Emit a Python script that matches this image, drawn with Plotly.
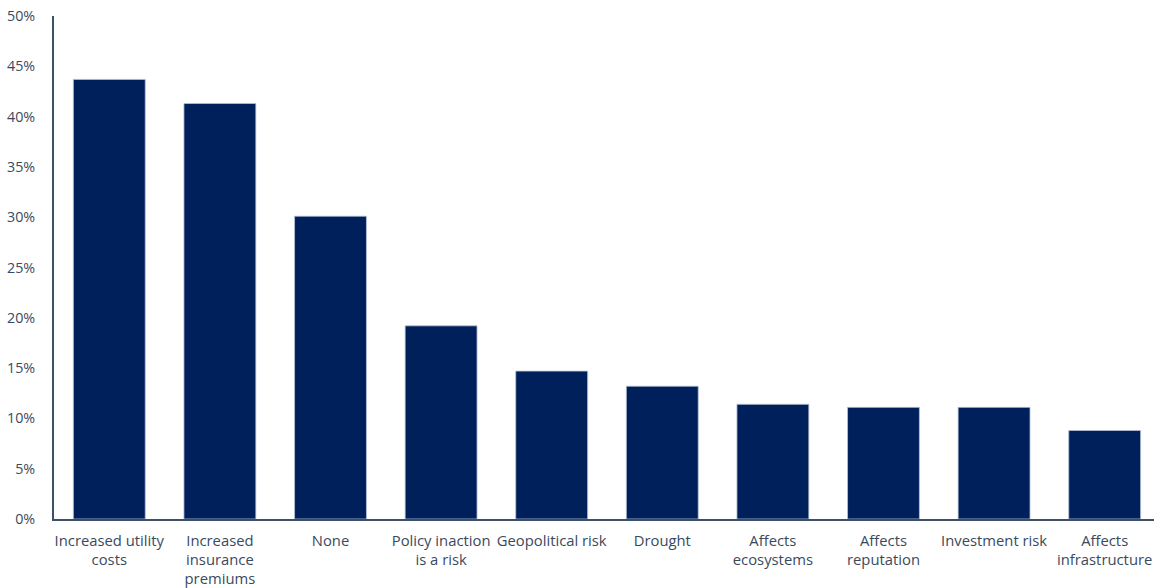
import plotly.graph_objects as go

categories = [
    "Increased utility<br>costs",
    "Increased<br>insurance<br>premiums",
    "None",
    "Policy inaction<br>is a risk",
    "Geopolitical risk",
    "Drought",
    "Affects<br>ecosystems",
    "Affects<br>reputation",
    "Investment risk",
    "Affects<br>infrastructure",
]
shares = [43.7, 41.3, 30.1, 19.2, 14.7, 13.2, 11.4, 11.1, 11.1, 8.8]
y_ticks = [0, 5, 10, 15, 20, 25, 30, 35, 40, 45, 50]
y_tick_labels = [f"{v}%" for v in y_ticks]

NAVY = "#00205B"
SLATE = "#3E5066"
TEXT = "#3A4A5E"

fig = go.Figure(
    go.Bar(
        x=list(range(len(categories))),
        y=shares,
        marker=dict(color=NAVY, line=dict(color="#B8C2D4", width=0.8)),
        hoverinfo="skip",
    )
)

fig.update_layout(
    width=1154,
    height=588,
    margin=dict(l=54, r=0, t=16, b=69),
    paper_bgcolor="white",
    plot_bgcolor="white",
    bargap=0.35,
    showlegend=False,
    font=dict(family="Open Sans", size=14, color=TEXT),
)

fig.update_xaxes(
    range=[-0.5, 9.446],
    tickmode="array",
    tickvals=list(range(len(categories))),
    ticktext=categories,
    showline=True,
    linecolor=SLATE,
    linewidth=2,
    showgrid=False,
    zeroline=False,
    ticks="",
    tickangle=0,
    ticklabelstandoff=7,
    tickfont=dict(size=14.8, color=TEXT),
)

fig.update_yaxes(
    range=[0, 50],
    tickmode="array",
    tickvals=y_ticks,
    ticktext=y_tick_labels,
    showline=True,
    linecolor=SLATE,
    linewidth=2,
    showgrid=False,
    zeroline=False,
    ticks="",
    ticklabelstandoff=14,
    tickfont=dict(size=14.3, color=TEXT),
)

fig.write_html("out.html")
